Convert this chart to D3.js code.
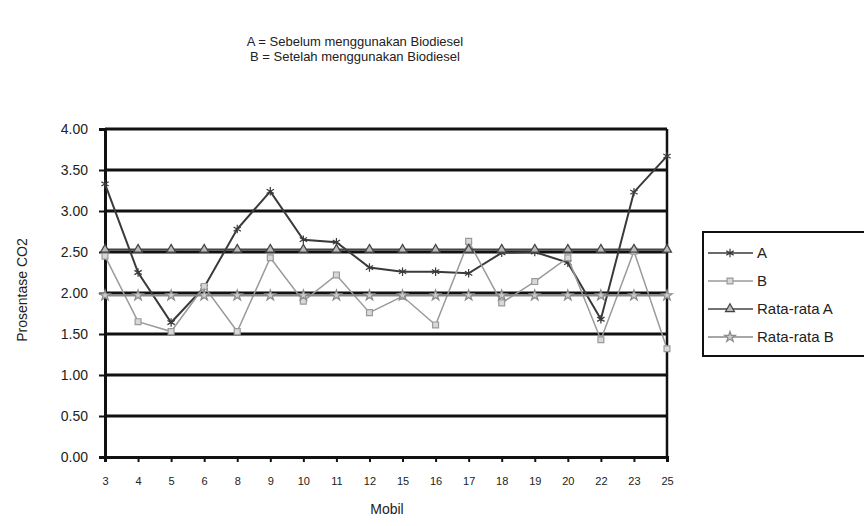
<!DOCTYPE html>
<html>
<head>
<meta charset="utf-8">
<script src="https://cdn.jsdelivr.net/npm/d3@7"></script>
<style>
  body { margin: 0; background: #fff; }
  text { font-family: "Liberation Sans", Arial, sans-serif; }
</style>
</head>
<body>
<script>
// Data
let mobil = ["3", "4", "5", "6", "8", "9", "10", "11", "12", "15", "16", "17", "18", "19", "20", "22", "23", "25"];
let seriesA = [3.33, 2.25, 1.64, 2.07, 2.78, 3.24, 2.65, 2.62, 2.31, 2.26, 2.26, 2.24, 2.49, 2.50, 2.37, 1.68, 3.23, 3.67];
let seriesB = [2.45, 1.65, 1.53, 2.08, 1.53, 2.43, 1.90, 2.22, 1.76, 1.96, 1.61, 2.63, 1.88, 2.14, 2.43, 1.43, 2.51, 1.32];
let rataA = mobil.map(() => 2.53);
let rataB = mobil.map(() => 1.97);
let yTicks = [0, 0.5, 1, 1.5, 2, 2.5, 3, 3.5, 4];
let titleLines = ["A = Sebelum menggunakan Biodiesel", "B = Setelah menggunakan Biodiesel"];

let width = 864, height = 526;
let margin = { top: 129, bottom: 69, left: 105, right: 197 };

let svg = d3.select("body")
  .append("svg")
  .attr("width", width)
  .attr("height", height)
  .style("background", "#fff");

let xScale = d3.scalePoint()
  .domain(mobil)
  .range([margin.left, width - margin.right]);

let yScale = d3.scaleLinear()
  .domain([0, 4])
  .range([height - margin.bottom, margin.top]);

// Title
svg.selectAll(".title")
  .data(titleLines)
  .enter().append("text")
  .attr("x", 355)
  .attr("y", (d, i) => 46 + i * 15)
  .attr("text-anchor", "middle")
  .style("font-size", "13px")
  .style("fill", "#222")
  .text(d => d);

// Gridlines
svg.selectAll(".grid")
  .data(yTicks.filter(d => d > 0))
  .enter().append("line")
  .attr("x1", margin.left)
  .attr("x2", width - margin.right)
  .attr("y1", d => yScale(d))
  .attr("y2", d => yScale(d))
  .attr("stroke", "#111")
  .attr("stroke-width", 3);

// Right border
svg.append("line")
  .attr("x1", width - margin.right).attr("x2", width - margin.right)
  .attr("y1", margin.top).attr("y2", height - margin.bottom)
  .attr("stroke", "#111").attr("stroke-width", 2.5);

// Y axis
let yAxis = svg.append("g")
  .attr("transform", `translate(${margin.left},0)`)
  .call(d3.axisLeft(yScale).tickValues(yTicks).tickFormat(d3.format(".2f")).tickSize(6).tickPadding(11));
yAxis.select(".domain").attr("stroke", "#111").attr("stroke-width", 3);
yAxis.selectAll(".tick line").attr("stroke", "#111").attr("stroke-width", 2);
yAxis.selectAll("text").style("font-size", "14px").style("fill", "#222");

// X axis
let xAxis = svg.append("g")
  .attr("transform", `translate(0,${height - margin.bottom})`)
  .call(d3.axisBottom(xScale).tickSize(5).tickPadding(15));
xAxis.select(".domain").attr("stroke", "#111").attr("stroke-width", 3);
xAxis.selectAll(".tick line").attr("stroke", "#111").attr("stroke-width", 2);
xAxis.selectAll("text").style("font-size", "11px").style("fill", "#222");

// Axis titles
svg.append("text")
  .attr("x", 387)
  .attr("y", 514)
  .attr("text-anchor", "middle")
  .style("font-size", "14px")
  .style("fill", "#222")
  .text("Mobil");

svg.append("text")
  .attr("transform", "translate(27,290) rotate(-90)")
  .attr("text-anchor", "middle")
  .style("font-size", "14px")
  .style("fill", "#222")
  .text("Prosentase CO2");

// Series
let series = [
  { name: "A", values: seriesA, color: "#3a3a3a", width: 2, symbol: d3.symbolAsterisk, size: 50, fill: "none" },
  { name: "B", values: seriesB, color: "#9a9a9a", width: 1.5, symbol: d3.symbolSquare, size: 35, fill: "#d8d8d8" },
  { name: "Rata-rata A", values: rataA, color: "#444", width: 2, symbol: d3.symbolTriangle, size: 35, fill: "#bbb" },
  { name: "Rata-rata B", values: rataB, color: "#8a8a8a", width: 2, symbol: d3.symbolStar, size: 35, fill: "#ccc" }
];

let line = d3.line()
  .x((d, i) => xScale(mobil[i]))
  .y(d => yScale(d));

series.forEach(s => {
  svg.append("path")
    .datum(s.values)
    .attr("d", line)
    .attr("fill", "none")
    .attr("stroke", s.color)
    .attr("stroke-width", s.width);

  svg.selectAll(null)
    .data(s.values)
    .enter().append("path")
    .attr("transform", (d, i) => `translate(${xScale(mobil[i])},${yScale(d)})`)
    .attr("d", d3.symbol().type(s.symbol).size(s.size))
    .attr("fill", s.fill)
    .attr("stroke", s.color)
    .attr("stroke-width", 1.2);
});

// Legend
svg.append("rect")
  .attr("x", 703).attr("y", 232)
  .attr("width", 170).attr("height", 124)
  .attr("fill", "#fff")
  .attr("stroke", "#111")
  .attr("stroke-width", 2);

let legend = svg.selectAll(".legend")
  .data(series)
  .enter().append("g")
  .attr("class", "legend")
  .attr("transform", (d, i) => `translate(708, ${253 + i * 28})`);

legend.append("line")
  .attr("x1", 0).attr("x2", 45)
  .attr("stroke", d => d.color)
  .attr("stroke-width", 1.5);

legend.append("path")
  .attr("transform", "translate(22,0)")
  .attr("d", d => d3.symbol().type(d.symbol).size(d.size)())
  .attr("fill", d => d.fill)
  .attr("stroke", d => d.color)
  .attr("stroke-width", 1.2);

legend.append("text")
  .attr("x", 49)
  .attr("y", 5)
  .style("font-size", "15px")
  .style("fill", "#222")
  .text(d => d.name);
</script>
</body>
</html>
